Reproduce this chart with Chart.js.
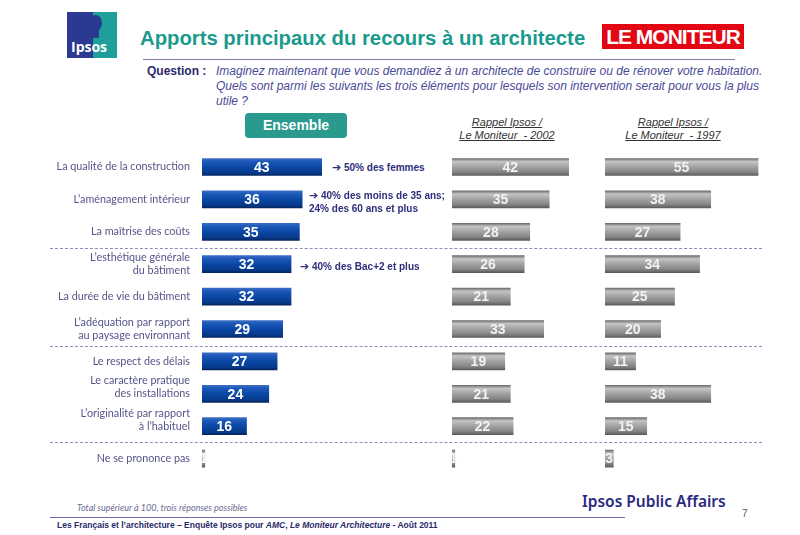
<!DOCTYPE html>
<html><head><meta charset="utf-8">
<script src="https://cdn.jsdelivr.net/npm/chart.js@4"></script>
<style>
body{margin:0;width:800px;height:535px;background:#fff;position:relative;overflow:hidden;font-family:'Liberation Sans',Arial,sans-serif;}
.abs{position:absolute;white-space:nowrap;}
canvas{position:absolute;}
.sep{position:absolute;left:50px;width:712px;height:0;border-top:1px dashed #8c8cba;}
.ann{position:absolute;white-space:nowrap;color:#2e2e7c;font:bold 10px 'Liberation Sans',Arial,sans-serif;line-height:13px;}
.arr{font-family:'DejaVu Sans';font-size:11px;font-weight:bold;}
.hdr{position:absolute;width:140px;text-align:center;color:#333;font:italic 11px 'Liberation Sans',Arial,sans-serif;line-height:13px;text-decoration:underline;}
</style></head><body>

<div class="abs" style="left:67px;top:12px;width:50px;height:46px;background:linear-gradient(90deg,#2b3990 0 52%,#1f9f9c 52% 100%);overflow:hidden;">
  <div style="position:absolute;left:22px;top:3px;width:13px;height:16px;border-radius:50%;background:#2b3990;"></div>
  <div style="position:absolute;left:24px;top:16px;width:8px;height:10px;background:#2b3990;"></div>
  <span style="position:absolute;left:4px;top:25px;color:#fff;font:bold 14px 'Open Sans',sans-serif;">Ipsos</span>
</div>
<div class="abs" style="left:140px;top:27px;color:#1a9a8c;font:bold 20.3px 'Liberation Sans',Arial,sans-serif;">Apports principaux du recours à un architecte</div>
<div class="abs" style="left:602px;top:24px;width:142px;height:25px;background:#e30613;"></div>
<div class="abs" style="left:602px;top:24px;width:142px;height:25px;color:#fff;text-align:center;font:bold 21px/25px 'Liberation Sans',sans-serif;letter-spacing:-1px;">LE MONITEUR</div>
<div class="abs" style="left:143px;top:59px;width:592px;height:0;border-top:1px solid #7a7ab0;"></div>
<div class="abs" style="left:147px;top:64px;color:#2a2a6a;font:bold 12px 'Liberation Sans',Arial,sans-serif;">Question :</div>
<div class="abs" style="left:216px;top:64px;color:#4a4a96;font:italic 12px/15px 'Liberation Sans',Arial,sans-serif;">Imaginez maintenant que vous demandiez à un architecte de construire ou de rénover votre habitation.<br>Quels sont parmi les suivants les trois éléments pour lesquels son intervention serait pour vous la plus<br>utile ?</div>

<div class="abs" style="left:245px;top:113px;width:102px;height:25px;border-radius:4px;background:#2a9a8e;color:#fff;text-align:center;font:bold 14px/25px 'Liberation Sans',Arial,sans-serif;">Ensemble</div>
<div class="hdr" style="left:437px;top:116px;">Rappel Ipsos /<br>Le Moniteur&nbsp; - 2002</div>
<div class="hdr" style="left:603px;top:116px;">Rappel Ipsos /<br>Le Moniteur&nbsp; - 1997</div>

<div class="sep" style="top:248px;"></div>
<div class="sep" style="top:346px;"></div>
<div class="sep" style="top:442px;"></div>

<canvas id="c1" width="330" height="345" style="left:0;top:141px;width:330px;height:345px;"></canvas>
<canvas id="c2" width="130" height="345" style="left:452px;top:141px;width:130px;height:345px;"></canvas>
<canvas id="c3" width="160" height="345" style="left:605px;top:141px;width:160px;height:345px;"></canvas>

<div class="ann" style="left:332px;top:161px;"><span class="arr">➔</span> 50% des femmes</div>
<div class="ann" style="left:309px;top:189px;"><span class="arr">➔</span> 40% des moins de 35 ans;<br>24% des 60 ans et plus</div>
<div class="ann" style="left:300px;top:260px;"><span class="arr">➔</span> 40% des Bac+2 et plus</div>

<div class="abs" style="left:77px;top:502px;color:#6a6a90;font:italic 9px 'Lato',sans-serif;">Total supérieur à 100, trois réponses possibles</div>
<div class="abs" style="left:582px;top:490px;color:#2a2a80;font:600 15.5px 'Noto Sans',sans-serif;">Ipsos Public Affairs</div>
<div class="abs" style="left:742px;top:508px;color:#555;font:10px 'Liberation Sans',sans-serif;">7</div>
<div class="abs" style="left:50px;top:517px;width:575px;height:0;border-top:1px solid #6a6aa8;"></div>
<div class="abs" style="left:57px;top:520px;color:#2a2a6a;font:bold 8.5px 'Liberation Sans',Arial,sans-serif;">Les Français et l’architecture – Enquête Ipsos pour <i>AMC</i>, <i>Le Moniteur Architecture</i> - Août 2011</div>

<script>
const categories = [
  ["La qualité de la construction"],
  ["L’aménagement intérieur"],
  ["La maîtrise des coûts"],
  ["L’esthétique générale","du bâtiment"],
  ["La durée de vie du bâtiment"],
  ["L’adéquation par rapport","au paysage environnant"],
  ["Le respect des délais"],
  ["Le caractère pratique","des installations",""],
  ["L’originalité par rapport","à l’habituel",""],
  ["Ne se prononce pas"]
];
const ensemble   = [43, 36, 35, 32, 32, 29, 27, 24, 16, 1];
const rappel2002 = [42, 35, 28, 26, 21, 33, 19, 21, 22, 1];
const rappel1997 = [55, 38, 27, 34, 25, 20, 11, 38, 15, 3];

const BAR_H = 17;
function grad(ctx, y0, y1, stops){
  const g = ctx.createLinearGradient(0, y0, 0, y1);
  stops.forEach(s => g.addColorStop(s[0], s[1]));
  return g;
}
const BLUE = [[0,'#3b6cc4'],[0.18,'#1c58b8'],[0.5,'#0b47a4'],[0.85,'#073a8a'],[1,'#04245e']];
const GRAY = [[0,'#6e6e6e'],[0.18,'#c4c4c4'],[0.45,'#a6a6a6'],[0.8,'#858585'],[1,'#5c5c5c']];

function bg(kind){
  return function(c){
    const chart = c.chart;
    const isBlue = kind === 'blue' && c.dataIndex < ensemble.length - 1;
    const y = chart.scales && chart.scales.y;
    if (!y || c.dataIndex === undefined) return isBlue ? '#0b47a4' : '#a0a0a0';
    const yc = y.getPixelForValue(c.dataIndex);
    if (!isFinite(yc)) return isBlue ? '#0b47a4' : '#a0a0a0';
    return grad(chart.ctx, yc - BAR_H/2, yc + BAR_H/2, isBlue ? BLUE : GRAY);
  };
}

const valueLabels = {
  id: 'valueLabels',
  afterDatasetsDraw(chart, args, opts){
    const ctx = chart.ctx;
    const meta = chart.getDatasetMeta(0);
    const data = chart.data.datasets[0].data;
    ctx.save();
    ctx.font = 'bold 14px "Liberation Sans", Arial, sans-serif';
    ctx.textAlign = 'center';
    ctx.textBaseline = 'middle';
    ctx.fillStyle = opts.color;
    meta.data.forEach((bar, i) => {
      ctx.fillText(String(data[i]), (bar.x + bar.base) / 2, bar.y + 1);
    });
    ctx.restore();
  }
};

function makeChart(id, values, max, kind, showLabels){
  const ch = new Chart(document.getElementById(id), {
    type: 'bar',
    data: { labels: categories, datasets: [{ data: values, backgroundColor: bg(kind), barThickness: BAR_H, borderWidth: 0 }] },
    options: {
      indexAxis: 'y',
      responsive: false,
      animation: false,
      devicePixelRatio: 1,
      layout: { padding: { top: 9.8, bottom: 11.2, left: 0, right: 0 } },
      plugins: { legend: { display: false }, tooltip: { enabled: false }, valueLabels: { color: kind === 'blue' ? '#ffffff' : '#f2f2f2' } },
      scales: {
        x: { display: false, min: 0, max: max },
        y: {
          display: showLabels,
          grid: { display: false, drawTicks: false },
          border: { display: false },
          ticks: { autoSkip: false, padding: 12, color: '#55558a', font: { family: 'Lato', size: 10.8 }, lineHeight: 1.2 },
          afterFit(scale){
            if (showLabels) scale.width = 202;
            scale.paddingTop = 0; scale.paddingBottom = 0;
          }
        }
      }
    },
    plugins: [valueLabels]
  });
  ch.update();
  return ch;
}

makeChart('c1', ensemble, 46, 'blue', true);
makeChart('c2', rappel2002, 46.8, 'gray', false);
makeChart('c3', rappel1997, 57.5, 'gray', false);
</script>
</body></html>
